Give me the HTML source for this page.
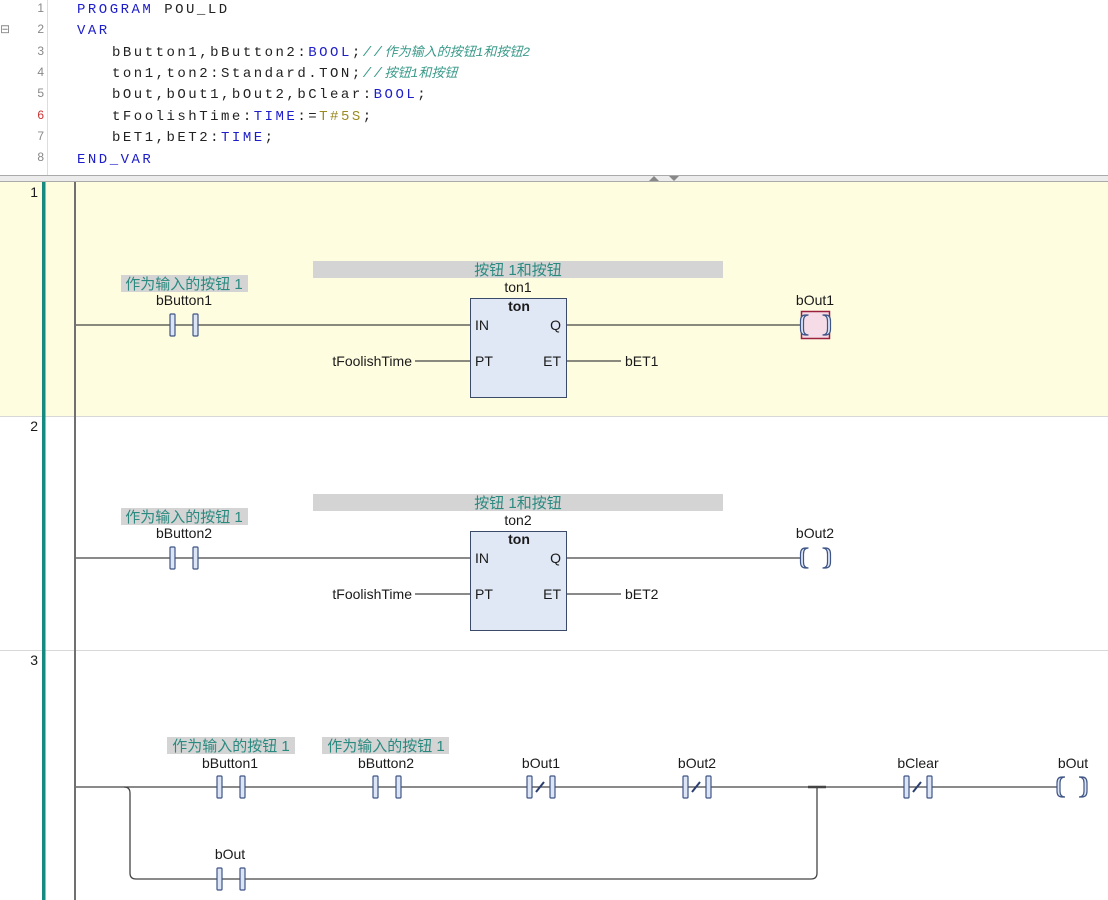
<!DOCTYPE html>
<html><head><meta charset="utf-8"><style>
html,body{margin:0;padding:0;background:#fff;}
svg{display:block;}
.mono{font-family:"Liberation Mono","Noto Sans CJK SC",monospace;font-size:14px;letter-spacing:2.5px;}
.mono .cj{letter-spacing:0;font-size:13px;}
.s{font-family:"Liberation Sans","Noto Sans CJK SC",sans-serif;font-size:14px;fill:#1a1a1a;}
.c{font-family:"Liberation Sans","Noto Sans CJK SC",sans-serif;font-size:15px;fill:#2a8a80;}
.ln{font-family:"Liberation Sans",sans-serif;font-size:12px;fill:#888;}
</style></head><body>
<svg width="1108" height="900" viewBox="0 0 1108 900" xmlns="http://www.w3.org/2000/svg">
<defs>
<g id="no"><rect x="-12" y="-11" width="5" height="22" fill="#dce5f5" stroke="#3f5585" stroke-width="1.2" rx="1"/><rect x="11" y="-11" width="5" height="22" fill="#dce5f5" stroke="#3f5585" stroke-width="1.2" rx="1"/></g>
<g id="nc"><use href="#no"/><line x1="-3" y1="5" x2="5" y2="-5" stroke="#2a3f70" stroke-width="2"/></g>
<g id="coil"><path d="M-7,-10 Q-12,-10 -12,-4 L-12,4 Q-12,10 -7,10 L-10,10 Q-15,10 -15,4 L-15,-4 Q-15,-10 -10,-10Z" fill="#dce5f5" stroke="#3f5585" stroke-width="1.2"/><path d="M7,-10 Q12,-10 12,-4 L12,4 Q12,10 7,10 L10,10 Q15,10 15,4 L15,-4 Q15,-10 10,-10Z" fill="#dce5f5" stroke="#3f5585" stroke-width="1.2"/></g>
</defs>
<rect x="0" y="0" width="1108" height="175" fill="#fff"/>
<line x1="47.5" y1="0" x2="47.5" y2="175" stroke="#ddd"/>
<text x="0" y="33" class="ln" fill="#6a8">⊟</text>
<g class="ln" text-anchor="end">
<text x="44" y="12">1</text><text x="44" y="33">2</text><text x="44" y="55">3</text><text x="44" y="76">4</text><text x="44" y="97">5</text><text x="44" y="119" fill="#c33">6</text><text x="44" y="140">7</text><text x="44" y="161">8</text></g>
<g class="mono">
<text x="77" y="13"><tspan fill="#1e1ec8">PROGRAM</tspan> <tspan fill="#222">POU_LD</tspan></text>
<text x="77" y="34" fill="#1e1ec8">VAR</text>
<text x="112" y="56" fill="#222">bButton1,bButton2:<tspan fill="#1e1ec8">BOOL</tspan>;<tspan fill="#3a9a8a" font-style="italic">//<tspan class="cj">作为输入的按钮1和按钮2</tspan></tspan></text>
<text x="112" y="77" fill="#222">ton1,ton2:Standard.TON;<tspan fill="#3a9a8a" font-style="italic">//<tspan class="cj">按钮1和按钮</tspan></tspan></text>
<text x="112" y="98" fill="#222">bOut,bOut1,bOut2,bClear:<tspan fill="#1e1ec8">BOOL</tspan>;</text>
<text x="112" y="120" fill="#222">tFoolishTime:<tspan fill="#1e1ec8">TIME</tspan>:=<tspan fill="#9a8a20">T#5S</tspan>;</text>
<text x="112" y="141" fill="#222">bET1,bET2:<tspan fill="#1e1ec8">TIME</tspan>;</text>
<text x="77" y="163" fill="#1e1ec8">END_VAR</text>
</g>
<rect x="0" y="175" width="1108" height="7" fill="#ececec"/>
<line x1="0" y1="175.5" x2="1108" y2="175.5" stroke="#aaa"/>
<line x1="0" y1="181.5" x2="1108" y2="181.5" stroke="#aaa"/>
<path d="M649,181 L654,176 L659,181Z" fill="#888"/><path d="M669,176 L679,176 L674,181Z" fill="#888"/>
<rect x="0" y="182" width="1108" height="234" fill="#fffde0"/>
<line x1="0" y1="416.5" x2="1108" y2="416.5" stroke="#d8d8d8"/>
<line x1="0" y1="650.5" x2="1108" y2="650.5" stroke="#d8d8d8"/>
<g class="s" text-anchor="end"><text x="38" y="197">1</text><text x="38" y="431">2</text><text x="38" y="665">3</text></g>
<rect x="42" y="182" width="3.5" height="718" fill="#148a80"/>
<rect x="74" y="182" width="2" height="718" fill="#707070"/>

<g stroke="#444" stroke-width="1.3" fill="none">
<line x1="76" y1="325" x2="470" y2="325"/><line x1="566" y1="325" x2="802" y2="325"/>
<line x1="415" y1="361" x2="470" y2="361"/><line x1="566" y1="361" x2="621" y2="361"/>
<line x1="76" y1="558" x2="470" y2="558"/><line x1="566" y1="558" x2="802" y2="558"/>
<line x1="415" y1="594" x2="470" y2="594"/><line x1="566" y1="594" x2="621" y2="594"/>
<line x1="76" y1="787" x2="1058" y2="787"/>
<path d="M124,787 Q130,787 130,793 L130,873 Q130,879 136,879 L811,879 Q817,879 817,873 L817,787"/>
<line x1="808" y1="787" x2="826" y2="787" stroke-width="2.5"/>
</g>
<rect x="121" y="275" width="127" height="17" fill="#d4d4d4"/><text x="184" y="289" class="c" text-anchor="middle">作为输入的按钮 1</text>
<text x="184" y="305" class="s" text-anchor="middle">bButton1</text>
<use href="#no" x="182" y="325"/>
<rect x="313" y="261" width="410" height="17" fill="#d4d4d4"/><text x="518" y="275" class="c" text-anchor="middle">按钮 1和按钮</text>
<text x="518" y="292" class="s" text-anchor="middle">ton1</text>
<rect x="470.5" y="298.5" width="96" height="99" fill="#e0e8f6" stroke="#3c4a6a"/>
<text x="519" y="311" class="s" font-weight="bold" text-anchor="middle">ton</text>
<text x="475" y="330" class="s">IN</text><text x="561" y="330" class="s" text-anchor="end">Q</text>
<text x="475" y="366" class="s">PT</text><text x="561" y="366" class="s" text-anchor="end">ET</text>
<text x="412" y="366" class="s" text-anchor="end">tFoolishTime</text><text x="625" y="366" class="s">bET1</text>
<text x="815" y="305" class="s" text-anchor="middle">bOut1</text>
<rect x="801.5" y="311.5" width="28" height="27" fill="#f6dce6" stroke="#9a2040" stroke-width="1.5"/>
<use href="#coil" x="815.5" y="325"/>

<rect x="121" y="508" width="127" height="17" fill="#d4d4d4"/><text x="184" y="522" class="c" text-anchor="middle">作为输入的按钮 1</text>
<text x="184" y="538" class="s" text-anchor="middle">bButton2</text>
<use href="#no" x="182" y="558"/>
<rect x="313" y="494" width="410" height="17" fill="#d4d4d4"/><text x="518" y="508" class="c" text-anchor="middle">按钮 1和按钮</text>
<text x="518" y="525" class="s" text-anchor="middle">ton2</text>
<rect x="470.5" y="531.5" width="96" height="99" fill="#e0e8f6" stroke="#3c4a6a"/>
<text x="519" y="544" class="s" font-weight="bold" text-anchor="middle">ton</text>
<text x="475" y="563" class="s">IN</text><text x="561" y="563" class="s" text-anchor="end">Q</text>
<text x="475" y="599" class="s">PT</text><text x="561" y="599" class="s" text-anchor="end">ET</text>
<text x="412" y="599" class="s" text-anchor="end">tFoolishTime</text><text x="625" y="599" class="s">bET2</text>
<text x="815" y="538" class="s" text-anchor="middle">bOut2</text>
<use href="#coil" x="815.5" y="558"/>

<rect x="167" y="737" width="128" height="17" fill="#d4d4d4"/><text x="231" y="751" class="c" text-anchor="middle">作为输入的按钮 1</text>
<rect x="322" y="737" width="127" height="17" fill="#d4d4d4"/><text x="386" y="751" class="c" text-anchor="middle">作为输入的按钮 1</text>
<text x="230" y="768" class="s" text-anchor="middle">bButton1</text><use href="#no" x="229" y="787"/>
<text x="386" y="768" class="s" text-anchor="middle">bButton2</text><use href="#no" x="385" y="787"/>
<text x="541" y="768" class="s" text-anchor="middle">bOut1</text><use href="#nc" x="539" y="787"/>
<text x="697" y="768" class="s" text-anchor="middle">bOut2</text><use href="#nc" x="695" y="787"/>
<text x="918" y="768" class="s" text-anchor="middle">bClear</text><use href="#nc" x="916" y="787"/>
<text x="1073" y="768" class="s" text-anchor="middle">bOut</text><use href="#coil" x="1072" y="787"/>
<text x="230" y="859" class="s" text-anchor="middle">bOut</text><use href="#no" x="229" y="879"/>
</svg>
</body></html>
